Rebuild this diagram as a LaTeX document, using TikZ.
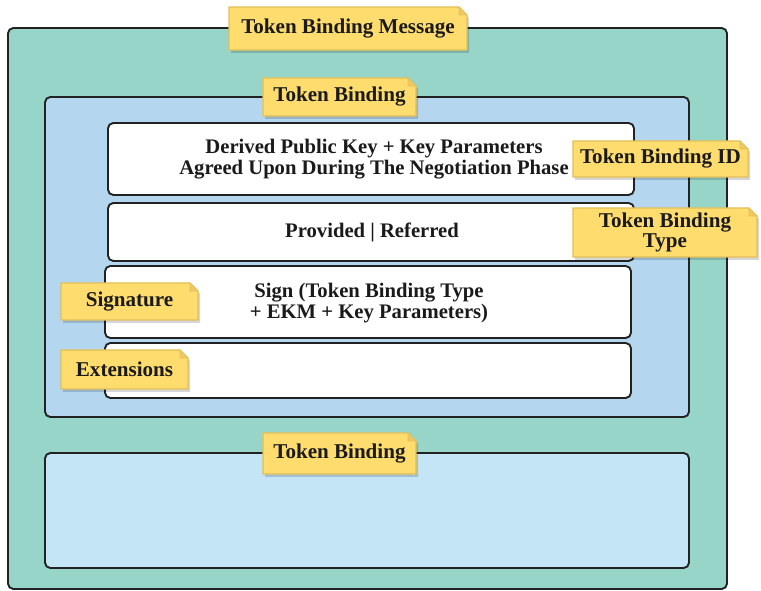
\documentclass[tikz,border=0pt]{standalone}
\usepackage{fontspec}
\setmainfont{Liberation Serif}
\usetikzlibrary{fit}
\definecolor{tealfill}{HTML}{98D5C9}
\definecolor{bluefill}{HTML}{B4D6EF}
\definecolor{lightblue}{HTML}{C4E5F6}
\definecolor{noteyellow}{HTML}{FFDC6E}
\definecolor{noteedge}{HTML}{E3C05A}
\definecolor{notefold}{HTML}{EEC862}
\definecolor{lineclr}{HTML}{222222}
\definecolor{textclr}{HTML}{1A1A1A}
\tikzset{
  box/.style={draw=lineclr, line width=1.4pt, rounded corners=4pt, inner sep=0pt},
  notetext/.style={text=textclr, font=\fontsize{15.8}{15}\selectfont\bfseries, align=center, inner sep=0pt},
  boxtext/.style={text=textclr, font=\fontsize{15.5}{15.5}\selectfont\bfseries, align=center, inner sep=0pt}
}
\newcommand{\stickynote}[6]{%
  \fill[black,opacity=0.16] (#2+2,#3+3) -- (#4-6,#3+3) -- (#4+2,#3+11) -- (#4+2,#5+3) -- (#2+2,#5+3) -- cycle;
  \filldraw[fill=noteyellow, draw=noteedge, line width=0.8pt] (#2,#3) -- (#4-8,#3) -- (#4,#3+8) -- (#4,#5) -- (#2,#5) -- cycle;
  \filldraw[fill=notefold, draw=noteedge, line width=0.5pt] (#4-8,#3) -- (#4-8,#3+8) -- (#4,#3+8) -- cycle;
  \node[notetext] (#1) at ({(#2+#4)/2},{(#3+#5)/2}) {#6};
}
\begin{document}
\begin{tikzpicture}[x=0.75pt,y=-0.75pt]
\useasboundingbox (0,0) rectangle (761,591);
\node[box, fill=tealfill, fit={(8,28) (727,589)}] (outer) {};
\stickynote{msg}{229}{7}{467}{50}{Token Binding Message}
\node[box, fill=bluefill, fit={(45,97) (689,417)}] (tb1) {};
\stickynote{tbone}{263}{78}{416}{116}{Token Binding}
\node[box, fill=white, fit={(108,123) (634,195)}] (keybox) {};
\node[boxtext] (keytext) at (374,159) {Derived Public Key + Key Parameters\\Agreed Upon During The Negotiation Phase};
\node[box, fill=white, fit={(108,203) (634,261)}] (typebox) {};
\node[boxtext] (typetext) at (372,232) {Provided | Referred};
\node[box, fill=white, fit={(105,266) (631,338)}] (sigbox) {};
\node[boxtext] (sigtext) at (369,303) {Sign (Token Binding Type\\+ EKM + Key Parameters)};
\node[box, fill=white, fit={(105,343) (631,398)}] (extbox) {};
\stickynote{tbid}{573}{141}{748}{177}{Token Binding ID}
\stickynote{tbtype}{573}{208}{757}{257}{Token Binding\\Type}
\stickynote{signote}{61}{283}{198}{320}{Signature}
\stickynote{extnote}{61}{350}{188}{389}{Extensions}
\node[box, fill=lightblue, fit={(45,453) (689,568)}] (tb2) {};
\stickynote{tbtwo}{263}{433}{416}{474}{Token Binding}
\end{tikzpicture}
\end{document}
